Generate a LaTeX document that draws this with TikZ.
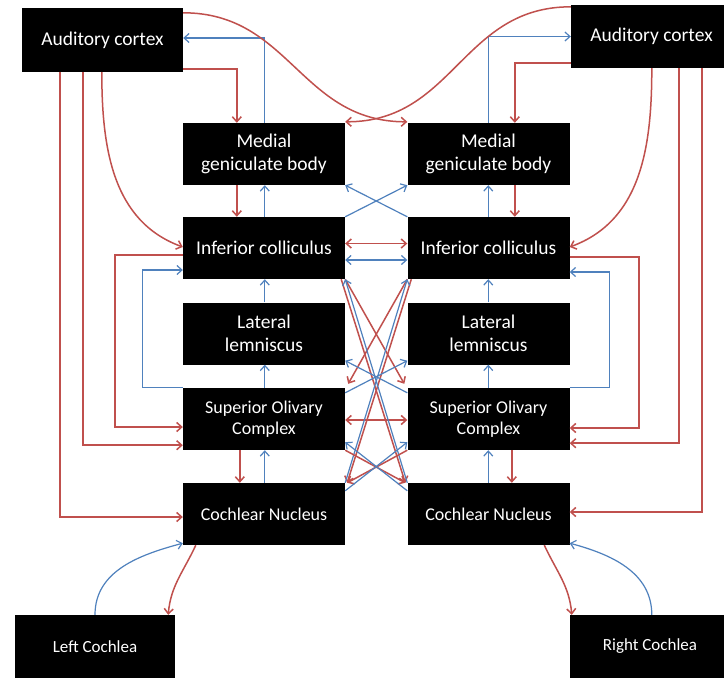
\documentclass[tikz,border=0pt]{standalone}
\usepackage{fontspec}
\setmainfont{Carlito}
\usetikzlibrary{arrows.meta,calc,backgrounds}
\definecolor{ared}{HTML}{C0504D}
\definecolor{ablue}{HTML}{4F81BD}
\begin{document}
\begin{tikzpicture}[x=1pt,y=1pt,
  box/.style={fill=black,text=white,inner sep=0pt,minimum width=162pt,minimum height=62pt,align=center,font=\fontsize{19.5}{23.4}\selectfont},
  sbox/.style={box,font=\fontsize{18}{21.6}\selectfont},
  cbox/.style={box,minimum width=160pt,minimum height=63pt,font=\fontsize{17}{20}\selectfont},
  tip/.tip={Straight Barb[length=5pt,width=9pt]},
  Rn/.style={draw=ared,line width=1.5pt},
  Bn/.style={draw=ablue,line width=1.2pt},
  R/.style={Rn,-tip},
  B/.style={Bn,-tip},
  R2/.style={Rn,tip-tip},
  B2/.style={Bn,tip-tip}]
\useasboundingbox (0,0) rectangle (724,-681);
\fill[white] (0,0) rectangle (724,-681);
% nodes
\node[box,minimum width=161pt,minimum height=64pt] (ACL) at (102.5,-40) {Auditory cortex};
\node[box,minimum width=161pt,minimum height=63pt] (ACR) at (651.5,-36.5) {Auditory cortex};
\node[box] (MGBL) at (264,-154) {Medial\\geniculate body};
\node[box] (MGBR) at (488.5,-154) {Medial\\geniculate body};
\node[box] (ICL) at (264,-248) {Inferior colliculus};
\node[box] (ICR) at (488.5,-248) {Inferior colliculus};
\node[box] (LLL) at (264,-333.5) {Lateral\\lemniscus};
\node[box] (LLR) at (488.5,-333.5) {Lateral\\lemniscus};
\node[sbox] (SOCL) at (264,-419) {Superior Olivary\\Complex};
\node[sbox] (SOCR) at (488.5,-419) {Superior Olivary\\Complex};
\node[sbox] (CNL) at (264,-514) {Cochlear Nucleus};
\node[sbox] (CNR) at (488.5,-514) {Cochlear Nucleus};
\node[cbox] (LCO) at (95,-646.5) {Left Cochlea};
\node[cbox] (RCO) at (650,-646.5) {Right Cochlea};
% lines passing behind boxes
\begin{pgfonlayer}{background}
\draw[R] (ACL.south east) -- ($(SOCL.north east)+(4,4)$);
\draw[R] (ACR.south west) -- ($(SOCR.north west)+(-4,4)$);
\draw[Rn] ($(SOCL.south west)+(103,8)$) -- ($(CNL.north west)+(94,-8)$);
\draw[Rn] ($(SOCR.south west)+(58.5,8)$) -- ($(CNR.north west)+(67.5,-8)$);
\end{pgfonlayer}
% left side
\draw[R] ($(ACL.south east)+(0,3)$) -| ($(MGBL.north west)+(54,0)$);
\draw[B] ($(MGBL.north west)+(82,0)$) |- ($(ACL.east)+(0,2)$);
\draw[R] ($(ACL.south west)+(80,0)$) to[out=-90,in=160] ($(ICL.west)+(0,1)$);
\draw[R] ($(ACL.south west)+(61,0)$) |- ($(SOCL.south west)+(0,5)$);
\draw[R] ($(ACL.south west)+(38,0)$) |- ($(CNL.west)+(0,-3)$);
\draw[R] ($(ICL.west)+(0,-7)$) -- ++(-68,0) |- ($(SOCL.west)+(0,-8)$);
\draw[B] (SOCL.north west) -- ++(-40,0) |- ($(ICL.west)+(0,-22)$);
\draw[R] ($(MGBL.south west)+(54,0)$) -- ($(ICL.north west)+(54,0)$);
\draw[B] ($(ICL.north west)+(82,0)$) -- ($(MGBL.south west)+(82,0)$);
\draw[B] ($(LLL.north west)+(82,0)$) -- ($(ICL.south west)+(82,0)$);
\draw[B] ($(SOCL.north west)+(82,0)$) -- ($(LLL.south west)+(82,0)$);
\draw[R] ($(SOCL.south west)+(57,0)$) -- ($(CNL.north west)+(57,0)$);
\draw[B] ($(CNL.north west)+(82,0)$) -- ($(SOCL.south west)+(82,0)$);
\draw[R] ($(CNL.south west)+(13,0)$) to[out=-115,in=85] ($(LCO.north east)+(-7,0)$);
\draw[B] (LCO.north) to[out=90,in=195] ($(CNL.south west)+(0,2)$);
% right side
\draw[R] ($(ACR.south west)+(0,5)$) -| ($(MGBR.north west)+(107.5,0)$);
\draw[B] ($(MGBR.north west)+(81,0)$) |- (ACR.west);
\draw[R] ($(ACR.south west)+(81,0)$) to[out=-90,in=20] ($(ICR.east)+(0,1)$);
\draw[R] ($(ACR.south west)+(108,0)$) |- ($(SOCR.south east)+(0,7)$);
\draw[R] ($(ACR.south west)+(131,0)$) |- ($(CNR.east)+(0,2)$);
\draw[R] ($(ICR.east)+(0,-9)$) -- ++(69.5,0) |- ($(SOCR.east)+(0,-9)$);
\draw[B] (SOCR.north east) -- ++(39.5,0) |- ($(ICR.east)+(0,-24)$);
\draw[R] ($(MGBR.south west)+(107.5,0)$) -- ($(ICR.north west)+(107.5,0)$);
\draw[B] ($(ICR.north west)+(81,0)$) -- ($(MGBR.south west)+(81,0)$);
\draw[B] ($(LLR.north west)+(81,0)$) -- ($(ICR.south west)+(81,0)$);
\draw[B] ($(SOCR.north west)+(81,0)$) -- ($(LLR.south west)+(81,0)$);
\draw[R] ($(SOCR.south west)+(104.5,0)$) -- ($(CNR.north west)+(104.5,0)$);
\draw[B] ($(CNR.north west)+(81,0)$) -- ($(SOCR.south west)+(81,0)$);
\draw[R] ($(CNR.south west)+(137,0)$) to[out=-65,in=95] ($(RCO.north west)+(2,0)$);
\draw[B] ($(RCO.north west)+(82,0)$) to[out=90,in=-15] ($(CNR.south east)+(0,2)$);
% top crossing curves
\draw[R] ($(ACL.north east)+(0,-5)$) to[out=0,in=180,looseness=1.1] ($(MGBR.north west)+(0,1)$);
\draw[R] ($(ACR.north west)+(0,-2)$) to[out=180,in=0,looseness=1.1] ($(MGBL.north east)+(0,1)$);
% middle
\draw[B] (ICL.north east) -- (MGBR.south west);
\draw[B] (ICR.north west) -- (MGBL.south east);
\draw[R2] ($(ICL.east)+(0,4.5)$) -- ($(ICR.west)+(0,4.5)$);
\draw[B2] ($(ICL.east)+(0,-12)$) -- ($(ICR.west)+(0,-12)$);
\draw[R2] ($(SOCL.east)+(0,-1)$) -- ($(SOCR.west)+(0,-1)$);
\draw[R] (ICL.south east) -- ($(SOCR.north west)+(-3,4)$);
\draw[R] (ICR.south west) -- ($(SOCL.north east)+(3,4)$);
\draw[R] ($(ICL.south east)+(-4,0)$) -- ($(CNR.north west)+(-2,0)$);
\draw[R] ($(ICR.south west)+(4,0)$) -- ($(CNL.north east)+(2,0)$);
\draw[B] (CNL.north east) -- (ICR.south west);
\draw[B] (CNR.north west) -- (ICL.south east);
\draw[B] ($(SOCL.north east)+(0,-5)$) -- ($(LLR.south west)+(0,4)$);
\draw[B] ($(SOCR.north west)+(0,-5)$) -- ($(LLL.south east)+(0,4)$);
\draw[R] (SOCL.south east) -- ($(CNR.north west)+(-2,0)$);
\draw[R] (SOCR.south west) -- ($(CNL.north east)+(2,0)$);
\draw[B] ($(CNR.north west)+(0,-8)$) -- ($(SOCL.south east)+(0,8)$);
\draw[B] ($(CNL.north east)+(0,-8)$) -- ($(SOCR.south west)+(0,8)$);
\end{tikzpicture}
\end{document}
